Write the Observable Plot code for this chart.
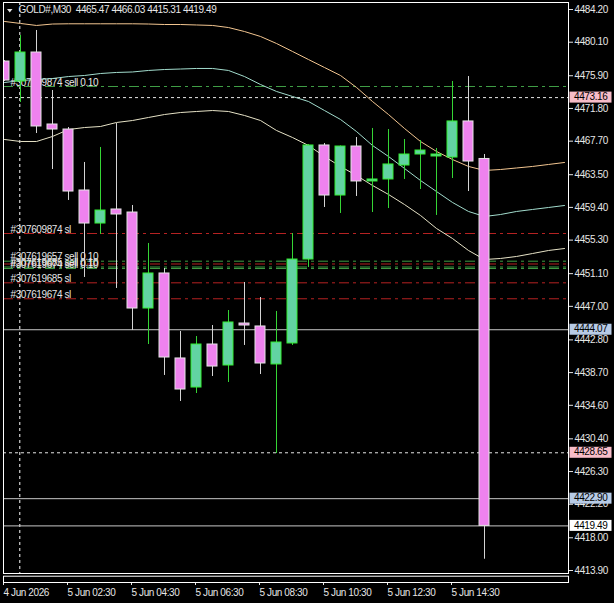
<!DOCTYPE html>
<html><head><meta charset="utf-8">
<script src="https://cdn.jsdelivr.net/npm/d3@7"></script>
<script src="https://cdn.jsdelivr.net/npm/@observablehq/plot@0.6"></script>
<style>
html,body{margin:0;padding:0;background:#000;}
svg text{letter-spacing:-0.4px;}
</style></head><body><div id="chart"></div>
<script>
const symbol = "GOLD#,M30";
const barTimes = ["4 Jun 22:30","5 Jun 01:00","5 Jun 01:30","5 Jun 02:00","5 Jun 02:30","5 Jun 03:00","5 Jun 03:30","5 Jun 04:00","5 Jun 04:30","5 Jun 05:00","5 Jun 05:30","5 Jun 06:00","5 Jun 06:30","5 Jun 07:00","5 Jun 07:30","5 Jun 08:00","5 Jun 08:30","5 Jun 09:00","5 Jun 09:30","5 Jun 10:00","5 Jun 10:30","5 Jun 11:00","5 Jun 11:30","5 Jun 12:00","5 Jun 12:30","5 Jun 13:00","5 Jun 13:30","5 Jun 14:00","5 Jun 14:30","5 Jun 15:00","5 Jun 15:30"];
const opens  = [4477.68,4475.18,4478.81,4469.79,4469.16,4461.52,4457.38,4459.14,4458.76,4446.73,4451.12,4440.47,4436.83,4442.22,4439.59,4444.85,4444.48,4439.72,4442.35,4452.87,4467.16,4460.89,4467.03,4462.65,4462.90,4464.65,4466.03,4465.78,4465.65,4470.17,4465.47];
const highs  = [4477.80,4480.94,4481.57,4474.05,4469.41,4465.03,4466.91,4469.91,4459.64,4454.88,4451.74,4443.85,4443.22,4444.60,4446.48,4449.99,4448.11,4446.36,4456.13,4467.28,4467.41,4467.10,4468.16,4469.29,4469.16,4467.91,4467.78,4466.78,4475.18,4475.80,4466.03];
const lows   = [4475.18,4472.55,4468.66,4464.15,4460.27,4450.62,4456.01,4449.24,4443.98,4442.22,4438.34,4435.08,4436.08,4438.21,4437.46,4442.10,4438.46,4428.56,4442.10,4451.87,4459.39,4458.64,4460.77,4458.76,4459.26,4462.90,4461.64,4458.39,4463.02,4461.39,4415.31];
const closes = [4475.30,4478.81,4469.54,4469.16,4461.39,4457.38,4459.01,4458.51,4446.73,4451.12,4440.59,4436.58,4442.22,4439.46,4444.98,4444.60,4439.84,4442.47,4452.87,4467.16,4460.89,4467.03,4462.65,4462.90,4464.78,4466.03,4466.53,4466.03,4470.17,4465.15,4419.49];

// three shifted moving averages (extend past the last bar)
const maUpper  = [4482.70,4482.45,4482.20,4482.38,4482.41,4482.41,4482.41,4482.41,4482.41,4482.38,4482.32,4482.32,4482.26,4482.20,4481.94,4481.44,4480.82,4479.94,4478.94,4477.93,4476.93,4475.93,4474.43,4472.67,4471.04,4469.29,4467.66,4466.41,4465.40,4464.53,4464.03,4464.15,4464.34,4464.53,4464.78,4465.03];
const maMiddle = [4475.05,4475.30,4475.43,4475.55,4475.80,4475.93,4476.18,4476.31,4476.37,4476.56,4476.68,4476.74,4476.81,4476.81,4476.56,4475.80,4474.80,4473.93,4473.30,4472.67,4471.54,4470.42,4468.91,4467.16,4465.78,4464.28,4462.77,4461.39,4460.02,4458.89,4458.26,4458.51,4458.89,4459.14,4459.39,4459.64];
const maLower  = [4467.91,4467.66,4467.66,4468.29,4469.16,4469.41,4469.54,4470.04,4470.29,4470.67,4471.04,4471.29,4471.42,4471.54,4471.42,4470.92,4470.29,4469.04,4468.16,4467.16,4465.78,4464.53,4463.40,4462.15,4461.02,4459.76,4458.39,4456.76,4455.50,4454.00,4452.87,4453.00,4453.25,4453.62,4454.00,4454.25];

const yTicks = [4484.20,4480.10,4475.90,4471.80,4467.70,4463.50,4459.40,4455.30,4451.10,4447.00,4442.80,4438.70,4434.60,4430.40,4426.30,4422.20,4418.00,4413.90];
const timeTickBars   = ["4 Jun 22:30","5 Jun 02:30","5 Jun 04:30","5 Jun 06:30","5 Jun 08:30","5 Jun 10:30","5 Jun 12:30","5 Jun 14:30"];
const timeTickLabels = ["4 Jun 2026","5 Jun 02:30","5 Jun 04:30","5 Jun 06:30","5 Jun 08:30","5 Jun 10:30","5 Jun 12:30","5 Jun 14:30"];
const separatorBar = "5 Jun 01:00";

const orderPrices = [4474.55,4456.13,4452.66,4452.31,4451.93,4451.74,4449.95,4447.95];
const orderLabels = ["#307609874 sell 0.10","#307609874 sl","#307619657 sell 0.10","#307619657 sl","#307619685 sell 0.10","#307619674 sell 0.10","#307619685 sl","#307619674 sl"];
const orderKinds  = ["sell","sl","sell","sl","sell","sell","sl","sl"];
const orderShowLabel = [true,true,true,false,true,true,true,true];

const dashedLevels = [4473.16,4428.65];
const solidLevels  = [4444.07,4422.90,4419.49];
const priceTags     = [4473.16,4444.07,4428.65,4422.90,4419.49];
const priceTagKinds = ["pink","blue","pink","blue","white"];

const bars = barTimes.map((t, i) => ({i, t, o: opens[i], h: highs[i], l: lows[i], c: closes[i], up: closes[i] >= opens[i]}));
const ma = maUpper.map((u, i) => ({i, u, m: maMiddle[i], l: maLower[i]}));
const orders = orderPrices.map((p, j) => ({p, label: orderLabels[j], kind: orderKinds[j], show: orderShowLabel[j]}));
const tickIdx = timeTickBars.map(b => barTimes.indexOf(b));
const last = bars[bars.length - 1];
const title = `${symbol}\u00a0\u00a0${last.o.toFixed(2)} ${last.h.toFixed(2)} ${last.l.toFixed(2)} ${last.c.toFixed(2)}`;

const FONT = "'Liberation Sans', Arial, sans-serif";
const fg = "#e6e6e6";

const chart = Plot.plot({
  width: 614, height: 603,
  marginLeft: 3, marginRight: 46, marginTop: 2, marginBottom: 21,
  style: {background: "#000", color: fg, fontFamily: FONT, fontSize: "10px"},
  color: {type: "identity"},
  x: {domain: [0, 35], range: [4, 564], label: null},
  y: {domain: [4413.9, 4484.2], range: [570, 9], label: null},
  marks: [
    Plot.ruleX([barTimes.indexOf(separatorBar)], {x: d => d, stroke: "#ffffff", strokeDasharray: "3,3", insetBottom: 9, dx: -0.7}),
    Plot.ruleY(solidLevels, {stroke: "#c8c8c8"}),
    Plot.ruleY(dashedLevels, {stroke: "#e6e6e6", strokeDasharray: "3,3"}),
    Plot.ruleY(orders, {y: "p", stroke: d => d.kind === "sl" ? "#b52222" : "#3f9d45", strokeDasharray: "10,4,3,4"}),
    Plot.text(orders.filter(d => d.show), {y: "p", text: "label", frameAnchor: "left", dx: 7, textAnchor: "start", lineAnchor: "bottom", dy: -1, fill: fg}),
    Plot.line(ma, {x: "i", y: "u", stroke: "#f2c590", strokeWidth: 1, clip: "frame"}),
    Plot.line(ma, {x: "i", y: "m", stroke: "#a2dccd", strokeWidth: 1, clip: "frame"}),
    Plot.line(ma, {x: "i", y: "l", stroke: "#e6e2c6", strokeWidth: 1, clip: "frame"}),
    Plot.ruleX(bars, {x: "i", y1: "l", y2: "h", stroke: d => d.up ? "#35d535" : "#d4d4d4", clip: "frame"}),
    Plot.rect(bars, {x1: d => d.i - 0.5, x2: d => d.i + 0.5, insetLeft: 3, insetRight: 3, y1: "o", y2: "c",
      fill: d => d.up ? "#62d3a2" : "#ee82ee", stroke: d => d.up ? "#33ee33" : "#e4e4e4", strokeWidth: 1, clip: "frame"}),
    Plot.axisY(yTicks, {anchor: "right", label: null, tickSize: 4, tickPadding: 2, tickFormat: d => d.toFixed(2), stroke: fg, fill: fg}),
    Plot.axisX(tickIdx, {anchor: "bottom", label: null, tickSize: 3, tickPadding: 3, tickFormat: i => timeTickLabels[tickIdx.indexOf(i)], textAnchor: "start", dx: -1, stroke: fg, fill: fg}),
    Plot.text([title], {text: d => d, frameAnchor: "top-left", dx: 15, dy: 3, lineAnchor: "top", textAnchor: "start", fill: fg}),
    Plot.frame({stroke: "#ffffff", insetBottom: 9}),
    Plot.frame({stroke: "#ffffff", insetTop: 573.7})
  ]
});

const svg = d3.select(chart);
const ys = chart.scale("y");
const g = svg.append("g").attr("font-family", FONT).attr("font-size", 10).attr("text-anchor", "start");
svg.append("path").attr("d", "M7,9 L12.5,9 L9.75,12.5 Z").attr("fill", fg);
const tagFill = {pink: "#f7bcc8", blue: "#b7cbe6", white: "#ffffff"};
priceTags.forEach((p, j) => {
  const y = ys.apply(p);
  g.append("rect").attr("x", 569.5).attr("y", y - 5.5).attr("width", 42).attr("height", 11).attr("fill", tagFill[priceTagKinds[j]]);
  g.append("text").attr("x", 574).attr("y", y).attr("dy", "0.32em").attr("fill", "#000").text(p.toFixed(2));
});
document.getElementById("chart").appendChild(chart);
</script>
</body></html>
